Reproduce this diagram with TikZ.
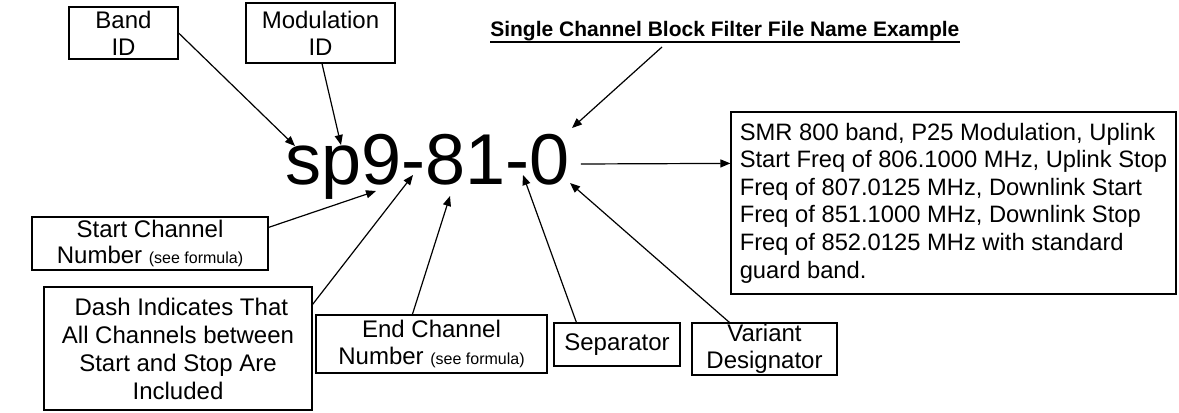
\documentclass[tikz,border=0pt]{standalone}
\usepackage{fontspec}
\setmainfont{Liberation Sans}
\usetikzlibrary{arrows.meta,calc}
\newcommand{\seeformula}{{\fontsize{12}{14}\selectfont (see formula)}}
\begin{document}
\begin{tikzpicture}[x=0.75pt,y=-0.75pt,
  box/.style={draw, line width=0.9pt, inner sep=0pt, align=center,
    font=\fontsize{18}{20}\selectfont},
  sz/.style 2 args={minimum width=#1*0.75pt, minimum height=#2*0.75pt},
  arr/.style={line width=0.9pt, -{Triangle[length=7.5pt,width=6pt]}}]
\useasboundingbox (0,0) rectangle (1179,413);

% title
\node[inner sep=0pt, anchor=base west, font=\fontsize{15.75}{18}\selectfont\bfseries] (title) at (490,37) {Single Channel Block Filter File Name Example};
\draw[line width=1.4pt] ($(title.base west)+(0,5)$) -- ($(title.base east)+(0,5)$);

% the code
\node[inner sep=0pt, anchor=base, font=\fontsize{54}{60}\selectfont] (code) at (427.5,185) {sp9-81-0};

% boxes
\node[box, sz={109}{52}] (band) at (123.5,33) {Band\\ID};
\node[box, sz={149}{60}] (mod) at (320.5,33) {Modulation\\ID};
\node[box, sz={236}{53}] (startch) at (150,243.5) {Start Channel\\Number \seeformula};
\node[box, sz={268}{123}, font=\fontsize{18}{21}\selectfont] (dash) at (178,348.5) {\ Dash Indicates That\\All Channels between\\Start and Stop Are\\Included};
\node[box, sz={231}{58}] (endch) at (431.5,344) {End Channel\\Number \seeformula};
\node[box, sz={126}{43}] (sep) at (617,344.5) {Separator};
\node[box, sz={145}{52}] (var) at (764.5,349) {Variant\\Designator};
\node[box, sz={445}{182}, align=left,
  font=\fontsize{17.8}{20.7}\selectfont] (desc) at (953.5,203) {SMR 800 band, P25 Modulation, Uplink\\Start Freq of 806.1000 MHz, Uplink Stop\\Freq of 807.0125 MHz, Downlink Start\\Freq of 851.1000 MHz, Downlink Stop\\Freq of 852.0125 MHz with standard\\guard band.};

% arrow tips on the code
\coordinate (tBand) at (295,146);
\coordinate (tMod) at (341,145);
\coordinate (tTitle) at (572,128);
\coordinate (tStart) at (376,191);
\coordinate (tDash) at (413,175);
\coordinate (tEnd) at (450,196);
\coordinate (tSep) at (523,175);
\coordinate (tVar) at (570,183);

% connectors
\draw[arr] (band.east) -- (tBand);
\draw[arr] ($(mod.south)+(1.5,0)$) -- (tMod);
\draw[arr] ($(title.base west)+(172,10)$) -- (tTitle);
\draw[arr] ($(startch.north east)+(0,11)$) -- (tStart);
\draw[arr] ($(dash.north east)+(0,18)$) -- (tDash);
\draw[arr] ($(endch.north west)+(97,0)$) -- (tEnd);
\draw[arr] ($(sep.north west)+(23,0)$) -- (tSep);
\draw[arr] ($(var.north west)+(38,0)$) -- (tVar);
\draw[arr] ($(code.base east)+(11,-21)$) -- ($(desc.north west)+(0,52)$);
\end{tikzpicture}
\end{document}
